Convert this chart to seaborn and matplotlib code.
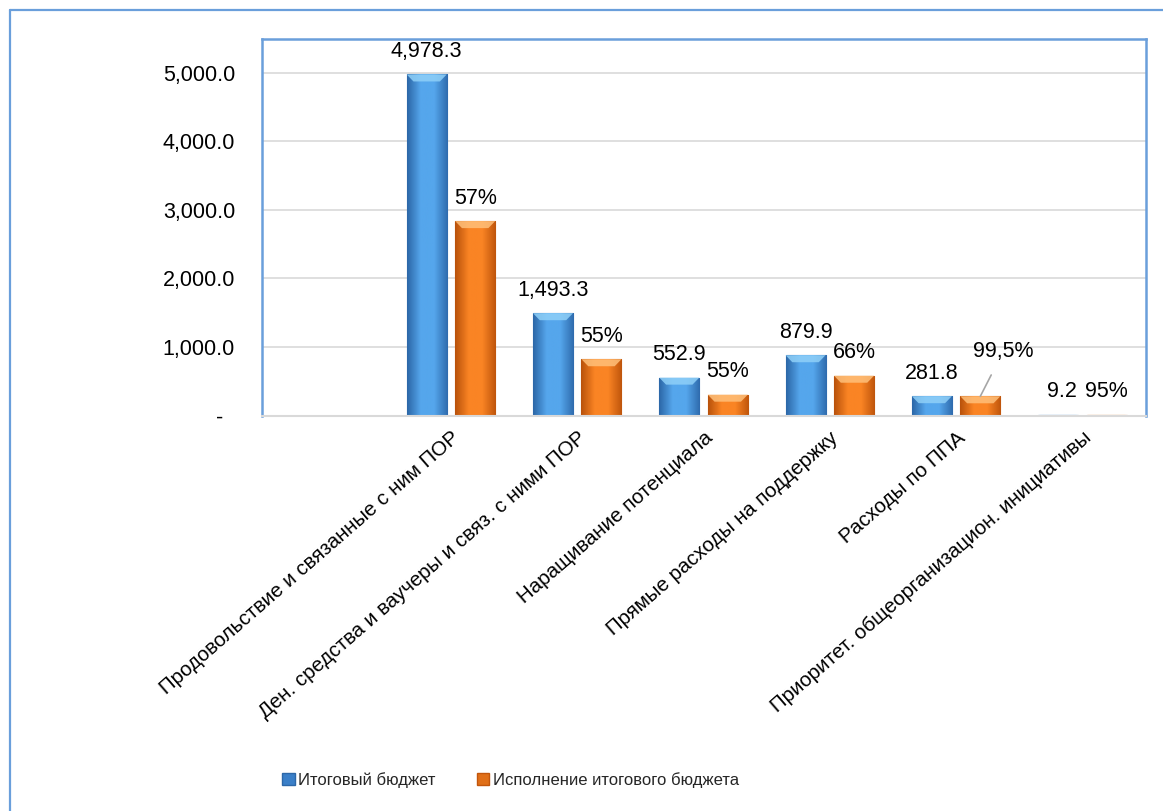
import numpy as np
import pandas as pd
import matplotlib
matplotlib.use("Agg")
import matplotlib.pyplot as plt
import seaborn as sns
from matplotlib.lines import Line2D
from matplotlib.patches import Patch, Polygon
from matplotlib.colors import LinearSegmentedColormap, to_hex

# ---- data ----
categories = ["",
              "Продовольствие и связанные с ним ПОР",
              "Ден. средства и ваучеры и связ. с ними ПОР",
              "Наращивание потенциала",
              "Прямые расходы на поддержку",
              "Расходы по ППА",
              "Приоритет. общеорганизацион. инициативы"]
budget = [np.nan, 4978.3, 1493.3, 552.9, 879.9, 281.8, 9.2]
execution = [np.nan, 2837.6, 821.3, 304.1, 580.7, 280.4, 8.7]
budget_labels = ["", "4,978.3", "1,493.3", "552.9", "879.9", "281.8", "9.2"]
execution_labels = ["", "57%", "55%", "55%", "66%", "99,5%", "95%"]
series = ["Итоговый бюджет", "Исполнение итогового бюджета"]
y_ticks = [0, 1000, 2000, 3000, 4000, 5000]
y_tick_labels = ["-  ", "1,000.0", "2,000.0", "3,000.0", "4,000.0", "5,000.0"]

df = pd.DataFrame({
    "cat": categories * 2,
    "series": [series[0]] * len(categories) + [series[1]] * len(categories),
    "value": budget + execution,
})

sns.set_theme(style="white")
plt.rcParams["font.family"] = ["Liberation Sans", "DejaVu Sans"]

W, H = 1163, 811
fig = plt.figure(figsize=(W / 100, H / 100), dpi=100)
ax = fig.add_axes([261.5 / W, 1 - 415.5 / H, (1145.5 - 261.5) / W, (415.5 - 39) / H])

blue = "#3F8EDB"
orange = "#F27A1A"
sns.barplot(data=df.dropna(), x="cat", y="value", hue="series", order=categories,
            hue_order=series, palette=[blue, orange], width=0.768, gap=0.175,
            ax=ax, legend=False, saturation=1, edgecolor="none")

ymax = 5496
px_per_unit = (415.5 - 39) / ymax  # pixels per data unit

# gradient / bevel effect on bars
grad_cols = {blue: ("#2C67A8", "#55A6EC", "#2F6CAE", "#8FD0F8"),
             orange: ("#B9520B", "#FA8424", "#C0560C", "#FFC07A")}
for p in list(ax.patches):
    h = p.get_height()
    if not np.isfinite(h) or h <= 0:
        continue
    x0, w = p.get_x(), p.get_width()
    fc = to_hex(p.get_facecolor()).upper()
    key = blue if fc == blue.upper() else orange
    c1, c2, c3, ctop = grad_cols[key]
    cmap = LinearSegmentedColormap.from_list("g", [c1, c2, c2, c3])
    img = np.linspace(0, 1, 64).reshape(1, -1)
    im = ax.imshow(img, extent=[x0, x0 + w, 0, h], aspect="auto", cmap=cmap,
                   origin="lower", zorder=p.get_zorder() + 0.1)
    im.set_clip_path(p)
    # top bevel
    bev = min(7 / px_per_unit, h / 2)
    inset = w * 0.17
    poly = Polygon([[x0, h], [x0 + w, h], [x0 + w - inset, h - bev], [x0 + inset, h - bev]],
                   closed=True, facecolor=ctop, edgecolor="none", alpha=0.85,
                   zorder=p.get_zorder() + 0.2)
    ax.add_patch(poly)
    p.set_edgecolor(c1)
    p.set_linewidth(0.8)
ax.set_ylim(0, ymax)
ax.set_xlim(-0.5, len(categories) - 0.5)

# data labels
fs = 15.5
for bars, labs in zip(ax.containers, [budget_labels, execution_labels]):
    for rect in bars:
        h = rect.get_height()
        if not np.isfinite(h):
            continue
        cx = rect.get_x() + rect.get_width() / 2
        idx = int(round(cx))
        lab = labs[idx]
        if not lab:
            continue
        if lab == "99,5%":
            ax.annotate(lab, xy=(cx, h), xytext=(23, 45), textcoords="offset pixels",
                        ha="center", va="center", fontsize=fs, color="#000000",
                        arrowprops=dict(arrowstyle="-", color="#A6A6A6", lw=1.2,
                                        shrinkA=8, shrinkB=0))
        else:
            dx = 4 if lab == "9.2" else 0
            ax.annotate(lab, xy=(cx, h), xytext=(dx, 23), textcoords="offset pixels",
                        ha="center", va="center", fontsize=fs, color="#000000")

# axes styling
ax.set_yticks(y_ticks)
ax.set_yticklabels(y_tick_labels, fontsize=fs, color="#000000")
ax.yaxis.grid(True, color="#D9D9D9", lw=1.2)
ax.set_axisbelow(True)
ax.tick_params(axis="y", length=0, pad=19)
ax.tick_params(axis="x", length=0, pad=9)
ax.set_xlabel("")
ax.set_ylabel("")
ax.set_xticks(range(len(categories)))
ax.set_xticklabels(categories, rotation=41, ha="right", va="top",
                   rotation_mode="anchor", fontsize=14.8, color="#000000")
for s in ["left", "top", "right"]:
    ax.spines[s].set_color("#6A9FDB")
    ax.spines[s].set_linewidth(1.8)
ax.spines["bottom"].set_color("#D9D9D9")
ax.spines["bottom"].set_linewidth(1.5)

# legend
handles = [Patch(facecolor="#3A7FC8", edgecolor="#2C67A8"),
           Patch(facecolor="#E06F18", edgecolor="#C2560C")]
fig.legend(handles, series, loc="center left", bbox_to_anchor=(282 / W, 1 - 780 / H),
           ncol=2, frameon=False, handlelength=0.75, handleheight=0.75,
           handletextpad=0.2, columnspacing=2.5, borderaxespad=0, borderpad=0,
           prop={"size": 12})

# outer frame
fig.add_artist(Line2D([9.5 / W, 9.5 / W], [0, 1 - 10 / H], transform=fig.transFigure,
                      color="#6A9FDB", lw=1.6))
fig.add_artist(Line2D([9.5 / W, 1], [1 - 10 / H, 1 - 10 / H], transform=fig.transFigure,
                      color="#6A9FDB", lw=1.6))

fig.savefig("out.png", dpi=100, facecolor="white")
